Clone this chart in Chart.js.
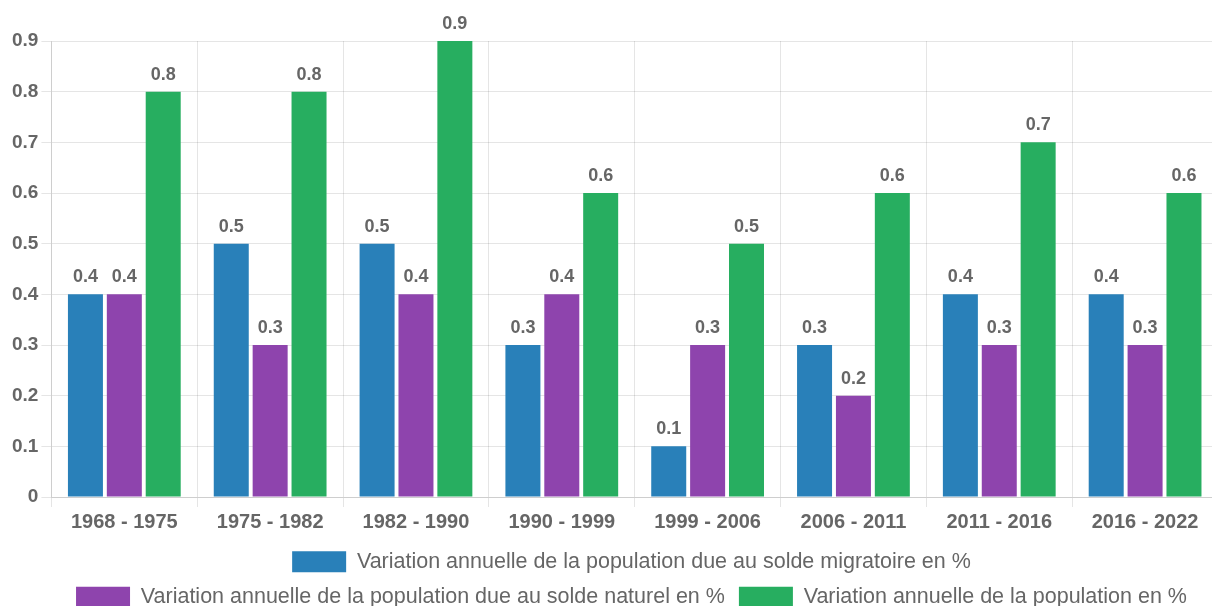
<!DOCTYPE html>
<html>

<head>
    <meta charset="utf-8">
    <script src="https://cdn.jsdelivr.net/npm/chart.js@4.4.1/dist/chart.umd.min.js"></script>
</head>

<style>
    body {
        margin: 0;
        overflow: hidden;
        background: #fff;
    }

    .chartbox {
        width: 1218px;
        height: 618px;
    }
</style>

<body>
    <div class="chartbox">
        <canvas id="myChart"></canvas>
    </div>
</body>

<script>
    var periodes = ['1968 - 1975', '1975 - 1982', '1982 - 1990', '1990 - 1999', '1999 - 2006', '2006 - 2011', '2011 - 2016', '2016 - 2022'];
    var soldeMigratoire = [0.4, 0.5, 0.5, 0.3, 0.1, 0.3, 0.4, 0.4];
    var soldeNaturel = [0.4, 0.3, 0.4, 0.4, 0.3, 0.2, 0.3, 0.3];
    var variationTotale = [0.8, 0.8, 0.9, 0.6, 0.5, 0.6, 0.7, 0.6];
    var yTicks = [0, 0.1, 0.2, 0.3, 0.4, 0.5, 0.6, 0.7, 0.8, 0.9];

    var gris = '#666';
    var police = '"Liberation Sans", Arial, Helvetica, sans-serif';

    // valeur affichée au-dessus de chaque barre
    var valeursPlugin = {
        id: 'valeurs',
        afterDatasetsDraw: function (chart) {
            var ctx = chart.ctx;
            ctx.save();
            ctx.fillStyle = gris;
            ctx.font = 'bold 18px ' + police;
            ctx.textAlign = 'center';
            ctx.textBaseline = 'bottom';
            chart.data.datasets.forEach(function (ds, i) {
                var meta = chart.getDatasetMeta(i);
                meta.data.forEach(function (bar, j) {
                    ctx.fillText(String(ds.data[j]), bar.x, bar.y - 8);
                });
            });
            ctx.restore();
        }
    };

    // légende un peu décalée vers la droite
    var decalageLegende = {
        id: 'decalageLegende',
        afterLayout: function (chart) {
            if (chart.legend) {
                chart.legend.left += 18;
                chart.legend.right += 18;
            }
        }
    };

    var myChart = document.getElementById('myChart').getContext('2d');
    var barChart = new Chart(myChart, {
        type: 'bar',
        data: {
            labels: periodes,
            datasets: [{
                label: 'Variation annuelle de la population due au solde migratoire en %',
                data: soldeMigratoire,
                backgroundColor: '#2980b9'
            }, {
                label: 'Variation annuelle de la population due au solde naturel en %',
                data: soldeNaturel,
                backgroundColor: '#8e44ad'
            }, {
                label: 'Variation annuelle de la population en %',
                data: variationTotale,
                backgroundColor: '#27ae60'
            }]
        },
        options: {
            responsive: true,
            maintainAspectRatio: false,
            animation: false,
            layout: {
                padding: { top: 41, left: 9, right: 0, bottom: 0 }
            },
            plugins: {
                legend: {
                    position: 'bottom',
                    labels: {
                        boxWidth: 54,
                        boxHeight: 21,
                        padding: 14,
                        color: gris,
                        font: { family: police, size: 21.5 }
                    }
                },
                tooltip: { enabled: false }
            },
            scales: {
                x: {
                    grid: { color: 'rgba(0,0,0,0.1)', tickLength: 10 },
                    ticks: {
                        color: gris,
                        font: { family: police, size: 20, weight: 'bold' }
                    }
                },
                y: {
                    min: 0,
                    max: 0.9,
                    afterBuildTicks: function (axis) {
                        axis.ticks = yTicks.map(function (v) { return { value: v }; });
                    },
                    grid: { color: 'rgba(0,0,0,0.1)', tickLength: 10 },
                    ticks: {
                        color: gris,
                        font: { family: police, size: 19, weight: 'bold' }
                    }
                }
            }
        },
        plugins: [valeursPlugin, decalageLegende]
    });
</script>

</html>
